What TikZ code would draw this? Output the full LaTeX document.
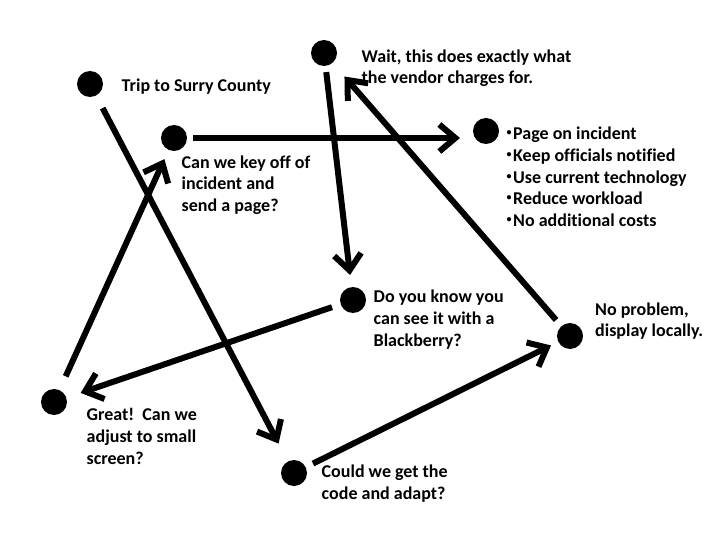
\documentclass[tikz,border=0pt]{standalone}
\usepackage{fontspec}
\setmainfont{Carlito}[Ligatures=NoCommon]
\usetikzlibrary{arrows.meta}
\begin{document}
\begin{tikzpicture}[x=1pt,y=-1pt,
  dot/.style={circle,fill=black,minimum size=26pt,inner sep=0pt},
  conn/.style={line width=6pt,-{Straight Barb[length=16pt,width=27pt]}},
  lbl/.style={anchor=base west,inner sep=0pt,align=left,
    font=\fontsize{18}{21.7}\selectfont\bfseries}]
\useasboundingbox (0,0) rectangle (720,540);
% dots
\node[dot] (A) at (90,84) {};
\node[dot] (B) at (324,53) {};
\node[dot] (C) at (174,138) {};
\node[dot] (D) at (486,131) {};
\node[dot] (E) at (353,300) {};
\node[dot] (F) at (570,336) {};
\node[dot] (G) at (54,402) {};
\node[dot] (H) at (294,473) {};
% labels (anchored at the baseline of the last line)
\node[lbl] (tA) at (121.5,91.7) {Trip to Surry County};
\node[lbl] (tB) at (361.5,84) {Wait, this does exactly what\\the vendor charges for.};
\node[lbl] (tC) at (181.5,211.7) {Can we key off of\\incident and\\send a page?};
\newcommand{\blt}{\makebox[6.5pt][l]{\raisebox{4pt}{\fontsize{10}{10}\selectfont\textbullet}}}
\node[lbl] (tD) at (506.5,226.5) {\blt Page on incident\\\blt Keep officials notified\\\blt Use current technology\\\blt Reduce workload\\\blt No additional costs};
\node[lbl] (tE) at (373.5,346) {Do you know you\\can see it with a\\Blackberry?};
\node[lbl] (tF) at (595,336.7) {No problem,\\display locally.};
\node[lbl] (tG) at (86.5,464.3) {Great!\ \ Can we\\adjust to small\\screen?};
\node[lbl] (tH) at (321.5,499.3) {Could we get the\\code and adapt?};
% connectors
\draw[conn,shorten <=14pt,shorten >=20pt] (A) -- (H);
\draw[conn,shorten <=6pt,shorten >=26pt] (C) -- (C -| D);
\draw[conn,shorten <=6pt,shorten >=12pt] (B) -- (E);
\draw[conn,shorten <=8pt,shorten >=18pt] (F) -- (B);
\draw[conn,shorten <=9pt,shorten >=15pt] (E) -- (G);
\draw[conn,shorten <=15pt,shorten >=10pt] (G) -- (C);
\draw[conn,shorten <=8pt,shorten >=8pt] (H) -- (F);
\end{tikzpicture}
\end{document}
